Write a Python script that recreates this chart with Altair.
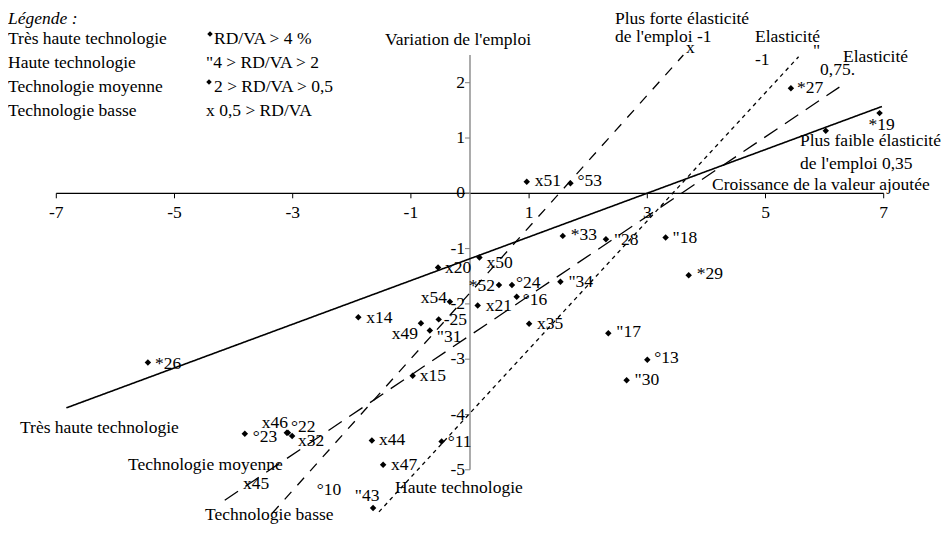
import altair as alt
import pandas as pd

# ---------------- layout helpers (pixel -> data) ----------------
W, H = 933, 517
X0_PX, XU = 470.0, 59.1
Y0_PX, YU = 193.3, 55.3


def px_x(p):
    return (p - X0_PX) / XU


def px_y(p):
    return (Y0_PX - p) / YU


XMIN, XMAX = px_x(8), px_x(8 + W)
YMAX, YMIN = px_y(8), px_y(8 + H)

FONT = "Liberation Serif"
FS = 17.5

# ---------------- data ----------------
point_labels = ["x51", "°53", "*33", '"28', '"18', "*29", "x50", "x20", "*52", "°24",
                '"34', "°16", "x54", "x21", "-25", "x49", '"31', "x35", '"17', "°13",
                '"30', "x15", "x14", "*26", "*27", "", "*19", "°23", "x46", "°22",
                "x32", "x44", "°11", "x47", '"43', "x45", "°10"]
point_x = [0.96, 1.70, 1.57, 2.30, 3.31, 3.70, 0.16, -0.54, 0.49, 0.71,
           1.53, 0.79, -0.34, 0.13, -0.53, -0.83, -0.68, 1.00, 2.34, 3.00,
           2.65, -0.97, -1.89, -5.45, 5.43, 6.02, 6.93, -3.81, -3.10, -3.08,
           -3.01, -1.66, -0.48, -1.47, -1.64, -3.96, -2.71]
point_y = [0.21, 0.18, -0.77, -0.83, -0.80, -1.48, -1.16, -1.34, -1.66, -1.66,
           -1.60, -1.87, -1.96, -2.03, -2.28, -2.35, -2.48, -2.36, -2.53, -3.01,
           -3.38, -3.30, -2.24, -3.06, 1.90, 1.13, 1.45, -4.35, -4.33, -4.33,
           -4.39, -4.47, -4.49, -4.91, -5.69, -5.27, -5.37]
# markers not visible in the original
hidden_markers = ["x45", "°10"]

# label placement (pixels) relative to the marker
label_dx = [8, 7, 8, 8, 7, 8, 7, 7, -4, 4,
            8, 6, -3, 8, 5, -3, 7, 8, 8, 7,
            8, 7, 8, 7, 6, 0, 2, 8, -12, 3,
            6, 7, 6, 8, -6, 7, 7]
label_dy = [-1, -2, -1, 1, 0, -1, 6, 1, 1, -2,
            0, 3, -4, 0, 1, 11, 7, 0, -1, -2,
            0, 0, 1, 1, 0, 0, 12, 3, -10, -6,
            5, 0, 0, 0, -12, -1, 0]
label_align = ["left"] * 37
for i in (8, 12, 15):
    label_align[i] = "right"
for i in (26, 28, 34):
    label_align[i] = "center"

# trend lines: endpoints
line_names = ["Très haute technologie", "Technologie basse", "Haute technologie", "Technologie moyenne"]
line_x1 = [-6.83, -3.35, -1.54, -4.15]
line_y1 = [-3.88, -5.79, -5.76, -5.55]
line_x2 = [6.97, 3.61, 5.56, 6.25]
line_y2 = [1.57, 2.50, 2.47, 1.92]
line_dash = [[1, 0], [10, 9], [4, 4], [16, 9]]
line_width = [1.6, 1.3, 1.3, 1.3]

x_ticks = [-7, -5, -3, -1, 1, 3, 5, 7]
x_tick_labels = ["-7", "-5", "-3", "-1", "1", "3", "5", "7"]
y_ticks = [2, 1, 0, -1, -2, -3, -4, -5]
y_tick_labels = ["2", "1", "0", "-1", "-2", "-3", "-4", "-5"]
y_axis_top = 2.5

# annotations: text, pixel x, pixel y, italic
ann_text = ["Légende :", "Très haute technologie", "RD/VA > 4 %", "Haute technologie",
            '"4 > RD/VA > 2', "Technologie moyenne", "2 > RD/VA > 0,5", "Technologie basse",
            "x 0,5 > RD/VA", "Variation de l'emploi", "Croissance de la valeur ajoutée",
            "Plus forte élasticité", "de l'emploi -1", "x", "Elasticité", "-1", '"',
            "Elasticité", "0,75.", "Plus faible élasticité", "de l'emploi 0,35",
            "Très haute technologie", "Technologie moyenne", "Technologie basse",
            "Haute technologie"]
ann_px = [8, 8, 214, 8, 206, 8, 214, 8, 206, 385, 712, 615, 615, 686, 755, 755, 813,
          843, 820, 800, 800, 20, 128, 205, 395]
ann_py = [19, 39, 39, 63, 63, 87, 87, 111, 111, 40, 185, 19, 37, 48, 37, 60, 51,
          57, 70, 141, 164, 428, 465, 515, 488]
ann_italic = [True] + [False] * (len(ann_text) - 1)
legend_marker_px = [210, 209]
legend_marker_py = [34, 82]

# ---------------- build ----------------
xs = alt.Scale(domain=[XMIN, XMAX], nice=False, zero=False)
ys = alt.Scale(domain=[YMIN, YMAX], nice=False, zero=False)


def X(f):
    return alt.X(f, type="quantitative", scale=xs, axis=None)


def Y(f):
    return alt.Y(f, type="quantitative", scale=ys, axis=None)


layers = []

# axes
axis_df = pd.DataFrame({"x1": [x_ticks[0], 0], "x2": [x_ticks[-1], 0],
                        "y1": [0, y_ticks[-1]], "y2": [0, y_axis_top],
                        "c": ["black", "#7f7f7f"]})
layers.append(alt.Chart(axis_df).mark_rule(strokeWidth=1.3).encode(
    x=X("x1"), x2="x2", y=Y("y1"), y2="y2",
    color=alt.Color("c:N", scale=None)))

xt = pd.DataFrame({"x": x_ticks, "lab": x_tick_labels})
xt["y1"] = 0.0
xt["y2"] = -5 / YU
xt["ylab"] = px_y(213)
layers.append(alt.Chart(xt).mark_rule(color="black", strokeWidth=1).encode(
    x=X("x"), y=Y("y1"), y2="y2"))
layers.append(alt.Chart(xt).mark_text(font=FONT, fontSize=FS, align="center",
                                      baseline="middle", color="black").encode(
    x=X("x"), y=Y("ylab"), text="lab:N"))

yt = pd.DataFrame({"y": y_ticks, "lab": y_tick_labels})
yt["x1"] = 0.0
yt["x2"] = -5 / XU
yt["xlab"] = px_x(465)
layers.append(alt.Chart(yt).mark_rule(color="#7f7f7f", strokeWidth=1).encode(
    x=X("x1"), x2="x2", y=Y("y")))
layers.append(alt.Chart(yt).mark_text(font=FONT, fontSize=FS, align="right",
                                      baseline="middle", color="black").encode(
    x=X("xlab"), y=Y("y"), text="lab:N"))

# trend lines
for i, name in enumerate(line_names):
    ldf = pd.DataFrame({"x1": [line_x1[i]], "y1": [line_y1[i]],
                        "x2": [line_x2[i]], "y2": [line_y2[i]], "name": [name]})
    layers.append(alt.Chart(ldf).mark_rule(color="black", strokeWidth=line_width[i],
                                           strokeDash=line_dash[i]).encode(
        x=X("x1"), y=Y("y1"), x2="x2", y2="y2"))

# points
pts = pd.DataFrame({"lab": point_labels, "x": point_x, "y": point_y,
                    "dx": label_dx, "dy": label_dy, "al": label_align})
shown = pts[~pts["lab"].isin(hidden_markers)]
layers.append(alt.Chart(shown).mark_point(shape="diamond", filled=True, size=42,
                                          color="black", opacity=1).encode(
    x=X("x"), y=Y("y")))
for al in ["left", "right", "center"]:
    for (dx, dy), grp in pts[pts["al"] == al].groupby(["dx", "dy"]):
        layers.append(alt.Chart(grp).mark_text(font=FONT, fontSize=FS, align=al,
                                               baseline="middle", dx=int(dx), dy=int(dy),
                                               color="black").encode(
            x=X("x"), y=Y("y"), text="lab:N"))

# annotations
ann = pd.DataFrame({"t": ann_text, "x": [px_x(p) for p in ann_px],
                    "y": [px_y(p) for p in ann_py], "it": ann_italic})
layers.append(alt.Chart(ann[~ann["it"]]).mark_text(font=FONT, fontSize=FS, align="left",
                                                   baseline="middle", color="black").encode(
    x=X("x"), y=Y("y"), text="t:N"))
layers.append(alt.Chart(ann[ann["it"]]).mark_text(font=FONT, fontSize=FS, align="left",
                                                  baseline="middle", fontStyle="italic",
                                                  color="black").encode(
    x=X("x"), y=Y("y"), text="t:N"))
lm = pd.DataFrame({"x": [px_x(p) for p in legend_marker_px],
                   "y": [px_y(p) for p in legend_marker_py]})
layers.append(alt.Chart(lm).mark_point(shape="diamond", filled=True, size=30,
                                       color="black", opacity=1).encode(
    x=X("x"), y=Y("y")))

chart = alt.layer(*layers).properties(
    width=W, height=H, padding=0, autosize=alt.AutoSizeParams(type="none"),
    background="white"
).configure_view(stroke=None)

chart.save("out.html", embed_options={"renderer": "svg", "actions": False})
